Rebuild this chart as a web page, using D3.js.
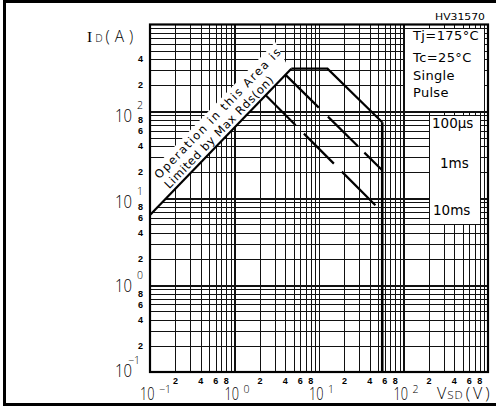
<!DOCTYPE html>
<html>
<head>
<meta charset="utf-8">
<script src="https://cdn.jsdelivr.net/npm/d3@7"></script>
<style>
  body { margin: 0; background: #fff; }
  svg { display: block; }
</style>
</head>
<body>
<svg id="chart" width="496" height="407"></svg>
<script>
// Axis ranges (log-log)
const vsdDomain = [0.1, 1000];
const idDomain = [0.1, 1000];
const decadeExponents = [-1, 0, 1, 2];
const gridMultipliers = [1, 2, 3, 4, 5, 6, 7, 8, 9];
const xMinorLabels = [2, 4, 6, 8];
const yMinorLabels = [[2, 4, 6, 8], [2, 4, 6, 8], [2, 4, 6, 8], [2, 4]];

// Safe operating area boundaries, [VSD (V), ID (A)]
const rdsLimit = [[0.1, 6.4], [4.7, 310]];
const pulse100us = [[4.7, 310], [12.6, 310], [56, 75]];
const vdsLimit = [[56, 75], [56, 0.1]];
const pulse1ms = [[4.0, 265], [56, 21]];
const pulse10ms = [[2.34, 153], [46.5, 8.3]];

const conditionLines = ["Tj=175°C", "Tc=25°C", "Single", "Pulse"];
const pulseLabels = ["100µs", "1ms", "10ms"];
const rdsNote = ["Operation in this Area is", "Limited by Max Rds(on)"];
const partNumber = "HV31570";

const svg = d3.select("#chart");
const plotL = 150, plotR = 488, plotT = 24.5, plotB = 372;
const x = d3.scaleLog().domain(vsdDomain).range([plotL, plotR]);
const y = d3.scaleLog().domain(idDomain).range([plotB, plotT]);

const thinFont = "'DejaVu Sans', sans-serif";
const lightFont = "'Open Sans', 'DejaVu Sans', sans-serif";
const boldSmall = "'Liberation Sans', Arial, sans-serif";
const isDecade = d => Math.abs(Math.log10(d) - Math.round(Math.log10(d))) < 1e-9;

svg.append("rect").attr("width", 496).attr("height", 407).attr("fill", "#fff");

// grid values: 1..9 x 10^k
const gridValues = [];
decadeExponents.forEach(e => gridMultipliers.forEach(m => gridValues.push(m * Math.pow(10, e))));

// vertical grid
const gx = svg.append("g")
  .attr("transform", `translate(0,${plotB})`)
  .call(d3.axisBottom(x).tickValues(gridValues).tickSize(-(plotB - plotT)).tickFormat(""));
gx.select(".domain").remove();
gx.selectAll("line").attr("stroke", "#111")
  .attr("stroke-width", d => isDecade(d) ? 1.8 : 1).attr("shape-rendering", "crispEdges");

// horizontal grid
const gy = svg.append("g")
  .attr("transform", `translate(${plotL},0)`)
  .call(d3.axisLeft(y).tickValues(gridValues).tickSize(-(plotR - plotL)).tickFormat(""));
gy.select(".domain").remove();
gy.selectAll("line").attr("stroke", "#111")
  .attr("stroke-width", d => isDecade(d) ? 1.8 : 1).attr("shape-rendering", "crispEdges");

// white band carrying the Rds(on) note, parallel to the limit line
const p0 = [x(rdsLimit[0][0]), y(rdsLimit[0][1])];
const p1 = [x(rdsLimit[1][0]), y(rdsLimit[1][1])];
const len = Math.hypot(p1[0] - p0[0], p1[1] - p0[1]);
const ux = (p1[0] - p0[0]) / len, uy = (p1[1] - p0[1]) / len;
const nx = uy, ny = -ux; // normal pointing up-left
const angle = Math.atan2(uy, ux) * 180 / Math.PI;
const along = (s, n) => [p0[0] + ux * s + nx * n, p0[1] + uy * s + ny * n];
const bandW = 30;
const sLeft = -nx * bandW / ux; // where the band's upper edge meets the frame
const bandPts = [along(0, 0), along(len - 2, 0), along(len + 8, bandW), along(sLeft, bandW)];
svg.append("polygon")
  .attr("points", bandPts.map(p => p[0].toFixed(2) + "," + p[1].toFixed(2)).join(" "))
  .attr("fill", "#fff");

rdsNote.forEach((t, i) => {
  const [px, py] = along(32, i === 0 ? 18 : 4);
  svg.append("text")
    .attr("transform", `translate(${px},${py}) rotate(${angle})`)
    .attr("font-family", thinFont).attr("font-size", 11.5)
    .attr("textLength", i === 0 ? 176 : 151).attr("lengthAdjust", "spacing")
    .text(t);
});

// white panels for the legend texts (edges left to the grid lines)
function panel(v0, v1, i0, i1) {
  svg.append("rect")
    .attr("x", Math.round(x(v0)) + 1).attr("y", Math.round(y(i0)) + 1)
    .attr("width", Math.round(x(v1)) - Math.round(x(v0)) - 1)
    .attr("height", Math.round(y(i1)) - Math.round(y(i0)) - 1)
    .attr("fill", "#fff");
}
panel(100, 900, 900, 100);
panel(200, 800, 90, 5);

// plot frame
svg.append("rect").attr("x", plotL).attr("y", plotT).attr("width", plotR - plotL).attr("height", plotB - plotT)
  .attr("fill", "none").attr("stroke", "#000").attr("stroke-width", 2.2);

// SOA curves
const line = d3.line().x(d => x(d[0])).y(d => y(d[1]));
const curve = (d, w, dash) => svg.append("path").attr("d", line(d)).attr("fill", "none")
  .attr("stroke", "#000").attr("stroke-width", w).attr("stroke-dasharray", dash || null);
curve(rdsLimit, 2.2);
curve(pulse100us, 2.2);
curve(pulse1ms, 2.2, "47,12.8,42.2,9,60");
curve(pulse10ms, 2.2, "42.4,11.7,42.4,11.3,60");
curve(vdsLimit, 2.6);

// condition texts
const condY = [40, 62, 80, 97];
conditionLines.forEach((t, i) => {
  svg.append("text").attr("x", 413).attr("y", condY[i])
    .attr("font-family", thinFont).attr("font-size", 13).attr("letter-spacing", i < 2 ? 0.4 : 0.3)
    .text(t);
});

// pulse width labels
const pulseLabelX = [432, 440, 433];
const pulseLabelY = [128, 168, 215];
pulseLabels.forEach((t, i) => {
  svg.append("text").attr("x", pulseLabelX[i]).attr("y", pulseLabelY[i])
    .attr("font-family", thinFont).attr("font-size", 13.5)
    .text(t);
});

// y axis labels
const yLabelDy = { "-1": 5, "0": 7, "1": 10, "2": 11 };
decadeExponents.forEach(e => {
  const base = y(Math.pow(10, e)) + yLabelDy[e];
  svg.append("text").attr("x", 115).attr("y", base)
    .attr("font-family", lightFont).attr("font-weight", 300).attr("font-size", 17.5)
    .attr("textLength", 17).attr("lengthAdjust", "spacingAndGlyphs").text("10");
  svg.append("text").attr("x", e < 0 ? 128 : 137).attr("y", base - 13)
    .attr("font-family", lightFont).attr("font-weight", 300).attr("font-size", 10.5)
    .text(e < 0 ? "\u2212" + (-e) : e);
});
decadeExponents.forEach((e, k) => yMinorLabels[k].forEach(m => {
  svg.append("text").attr("x", 143).attr("y", y(m * Math.pow(10, e))).attr("dy", "0.36em")
    .attr("text-anchor", "end").attr("font-family", boldSmall).attr("font-size", 9).attr("font-weight", "bold")
    .text(m);
}));

// x axis labels
decadeExponents.forEach(e => {
  const xx = x(Math.pow(10, e));
  svg.append("text").attr("x", xx - 10).attr("y", 400)
    .attr("font-family", lightFont).attr("font-weight", 300).attr("font-size", 17.5)
    .attr("textLength", 14.5).attr("lengthAdjust", "spacingAndGlyphs").text("10");
  svg.append("text").attr("x", xx + 9).attr("y", 393)
    .attr("font-family", lightFont).attr("font-weight", 300).attr("font-size", 10.5)
    .text(e < 0 ? "\u2212" + (-e) : e);
  xMinorLabels.forEach(m => {
    svg.append("text").attr("x", x(m * Math.pow(10, e))).attr("y", 384)
      .attr("text-anchor", "middle").attr("font-family", boldSmall).attr("font-size", 9).attr("font-weight", "bold")
      .text(m);
  });
});

// axis titles
const idTitle = svg.append("text").attr("x", 87).attr("y", 42)
  .attr("font-family", lightFont).attr("font-weight", 300).attr("font-size", 15.5);
idTitle.append("tspan").attr("font-family", "'Liberation Serif', serif").attr("font-weight", 400).text("I");
idTitle.append("tspan").attr("font-size", 10.5).attr("dx", 3).text("D");
idTitle.append("tspan").attr("dx", 3).attr("letter-spacing", 5).text("(A)");

const vsdTitle = svg.append("text").attr("x", 437).attr("y", 399)
  .attr("font-family", lightFont).attr("font-weight", 300).attr("font-size", 16);
vsdTitle.append("tspan").text("V");
vsdTitle.append("tspan").attr("font-size", 11.5).attr("dx", 1).attr("letter-spacing", 1).text("SD");
vsdTitle.append("tspan").attr("dx", 2).attr("letter-spacing", 3).text("(V)");

svg.append("text").attr("x", 435).attr("y", 20)
  .attr("font-family", thinFont).attr("font-size", 9.5)
  .attr("textLength", 50).attr("lengthAdjust", "spacingAndGlyphs")
  .text(partNumber);

// outer border
svg.append("rect").attr("x", 4.5).attr("y", 1.5).attr("width", 500).attr("height", 403)
  .attr("fill", "none").attr("stroke", "#000").attr("stroke-width", 3);
</script>
</body>
</html>
